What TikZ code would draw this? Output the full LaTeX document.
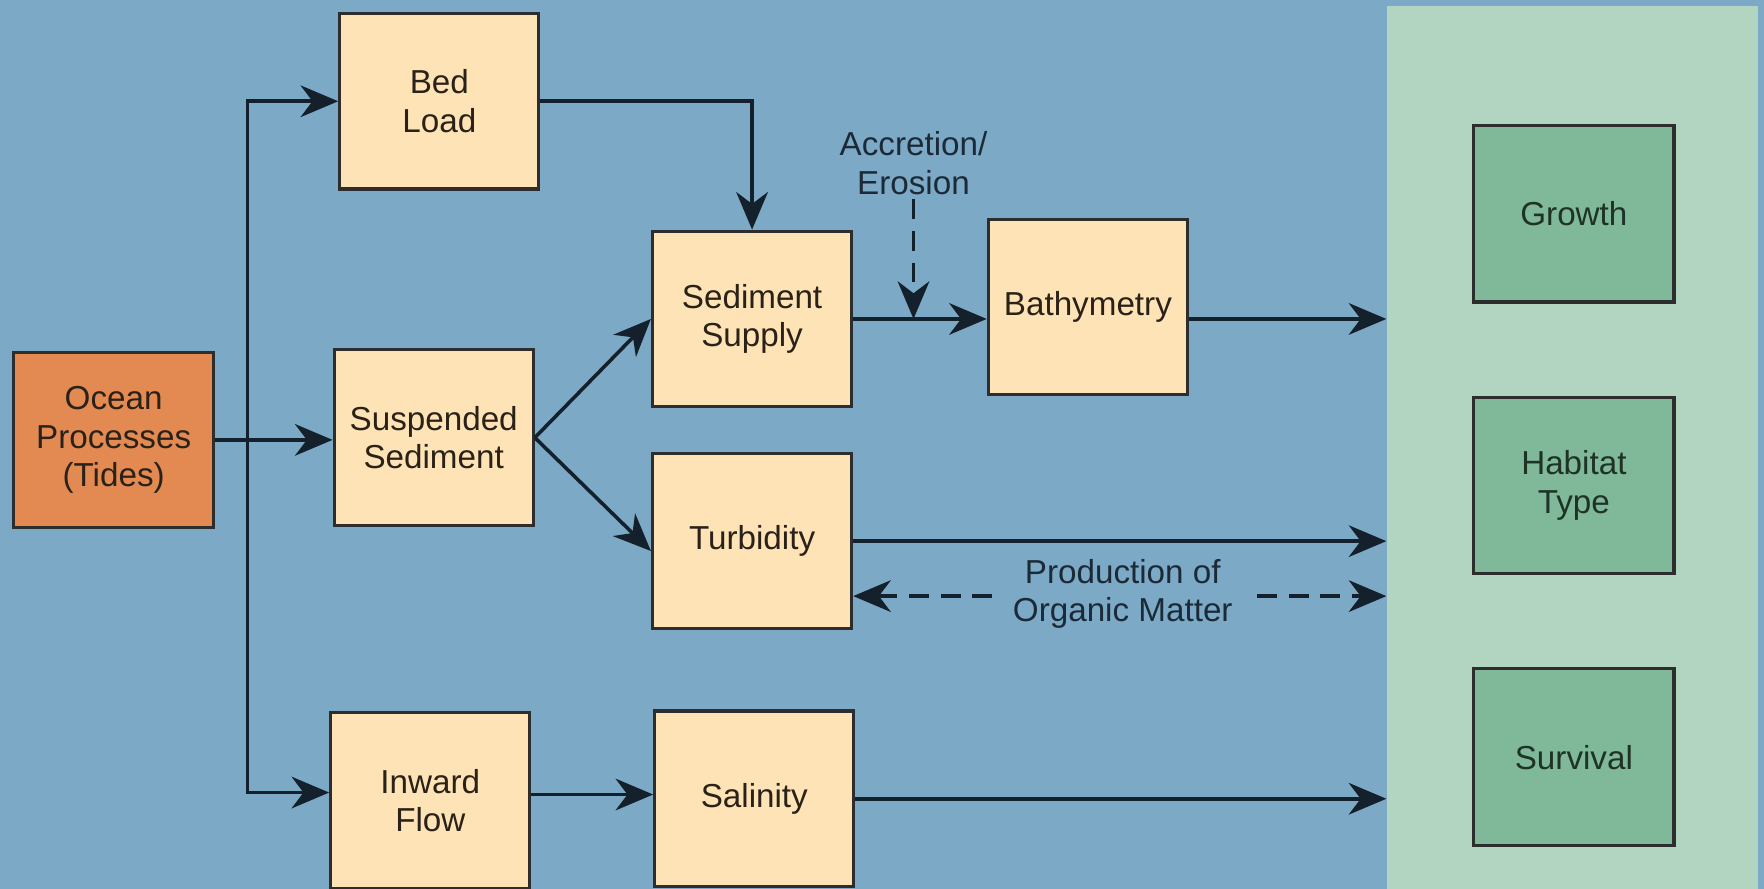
\documentclass[tikz,border=0pt]{standalone}
\usepackage{fontspec}
\setmainfont{Liberation Sans}
\usetikzlibrary{arrows.meta}
\definecolor{bgblue}{RGB}{124,170,198}
\definecolor{tanfill}{RGB}{253,227,181}
\definecolor{oceanfill}{RGB}{226,138,82}
\definecolor{panelfill}{RGB}{178,213,194}
\definecolor{greenfill}{RGB}{128,185,153}
\definecolor{linecol}{RGB}{20,32,44}
\definecolor{boxline}{RGB}{45,45,45}
\definecolor{tantext}{RGB}{42,33,24}
\definecolor{greentext}{RGB}{30,51,38}
\definecolor{labeltext}{RGB}{28,42,56}
\begin{document}
\begin{tikzpicture}[y=-1cm,
  box/.style={draw=boxline, line width=0.8pt, minimum width=1.77cm,
    minimum height=1.56cm, align=center, inner sep=0pt,
    font=\fontsize{8.4}{9.7}\selectfont},
  tanbox/.style={box, fill=tanfill, text=tantext},
  oceanbox/.style={box, fill=oceanfill, text=tantext, minimum width=1.78cm},
  greenbox/.style={box, fill=greenfill, text=greentext, minimum width=1.78cm, minimum height=1.57cm},
  lbl/.style={align=center, inner sep=1pt, text=labeltext,
    font=\fontsize{8.4}{9.7}\selectfont},
  arr/.style={draw=linecol, line width=0.9pt,
    -{Stealth[length=9.5pt,width=8pt,inset=3pt]}},
  darr/.style={arr, dash pattern=on 5pt off 3pt},
  ddarr/.style={darr, {Stealth[length=9.5pt,width=8pt,inset=3pt]}-{Stealth[length=9.5pt,width=8pt,inset=3pt]}},
]
\clip (0,0) rectangle (15.68,7.90);
\useasboundingbox (0,0) rectangle (15.68,7.90);
\fill[bgblue] (0,0) rectangle (15.68,7.90);

% outcome panel on the right
\node[fill=panelfill, draw=none, minimum width=3.30cm, minimum height=8.15cm,
  inner sep=0pt] (panel) at (13.98,4.125) {};

% boxes
\node[oceanbox] (ocean) at (1.01,3.91) {Ocean\\Processes\\(Tides)};
\node[tanbox] (bed) at (3.905,0.90) {Bed\\Load};
\node[tanbox] (susp) at (3.855,3.89) {Suspended\\Sediment};
\node[tanbox] (inward) at (3.825,7.115) {Inward\\Flow};
\node[tanbox] (supply) at (6.685,2.835) {Sediment\\Supply};
\node[tanbox] (turb) at (6.685,4.81) {Turbidity};
\node[tanbox] (sal) at (6.705,7.10) {Salinity};
\node[tanbox] (bath) at (9.67,2.73) {Bathymetry};

\node[greenbox] (growth) at (13.99,1.90) {Growth};
\node[greenbox] (habitat) at (13.99,4.315) {Habitat\\Type};
\node[greenbox] (survival) at (13.99,6.73) {Survival};

% labels
\node[lbl] (acc) at (8.12,1.45) {Accretion/\\Erosion};

% connectors
\coordinate (split) at (2.20,3.91);
\draw[arr] (ocean.east) -- (ocean.east -| susp.west);
\draw[arr] (split) |- (bed.west);
\coordinate (inwardin) at ([yshift=2pt]inward.west);
\draw[arr] (split) |- (inwardin);

\draw[arr] (bed.east) -| (supply.north);
\draw[arr] (susp.east) -- (supply.west);
\coordinate (turbin) at ([yshift=-2.5pt]turb.west);
\draw[arr] (susp.east) -- (turbin);

\draw[arr] (supply.east) -- (supply.east -| bath.west);
\draw[darr] (acc.south) -- (acc.south |- supply.east);
\coordinate (bathout) at (bath.east |- supply.east);
\draw[arr] (bathout) -- (bathout -| panel.west);

\draw[arr] (turb.east) -- (turb.east -| panel.west);
\coordinate (pomL) at ([yshift=-13.9pt]turb.east);
\draw[ddarr] (pomL) -- (pomL -| panel.west);
\node[lbl, fill=bgblue, inner xsep=3.5pt, inner ysep=0pt] (pom) at (9.98,5.28) {Production of\\Organic Matter};

\coordinate (inwardout) at ([yshift=1.5pt]inward.east);
\draw[arr] (inwardout) -- (inwardout -| sal.west);
\draw[arr] (sal.east) -- (sal.east -| panel.west);
\end{tikzpicture}
\end{document}
